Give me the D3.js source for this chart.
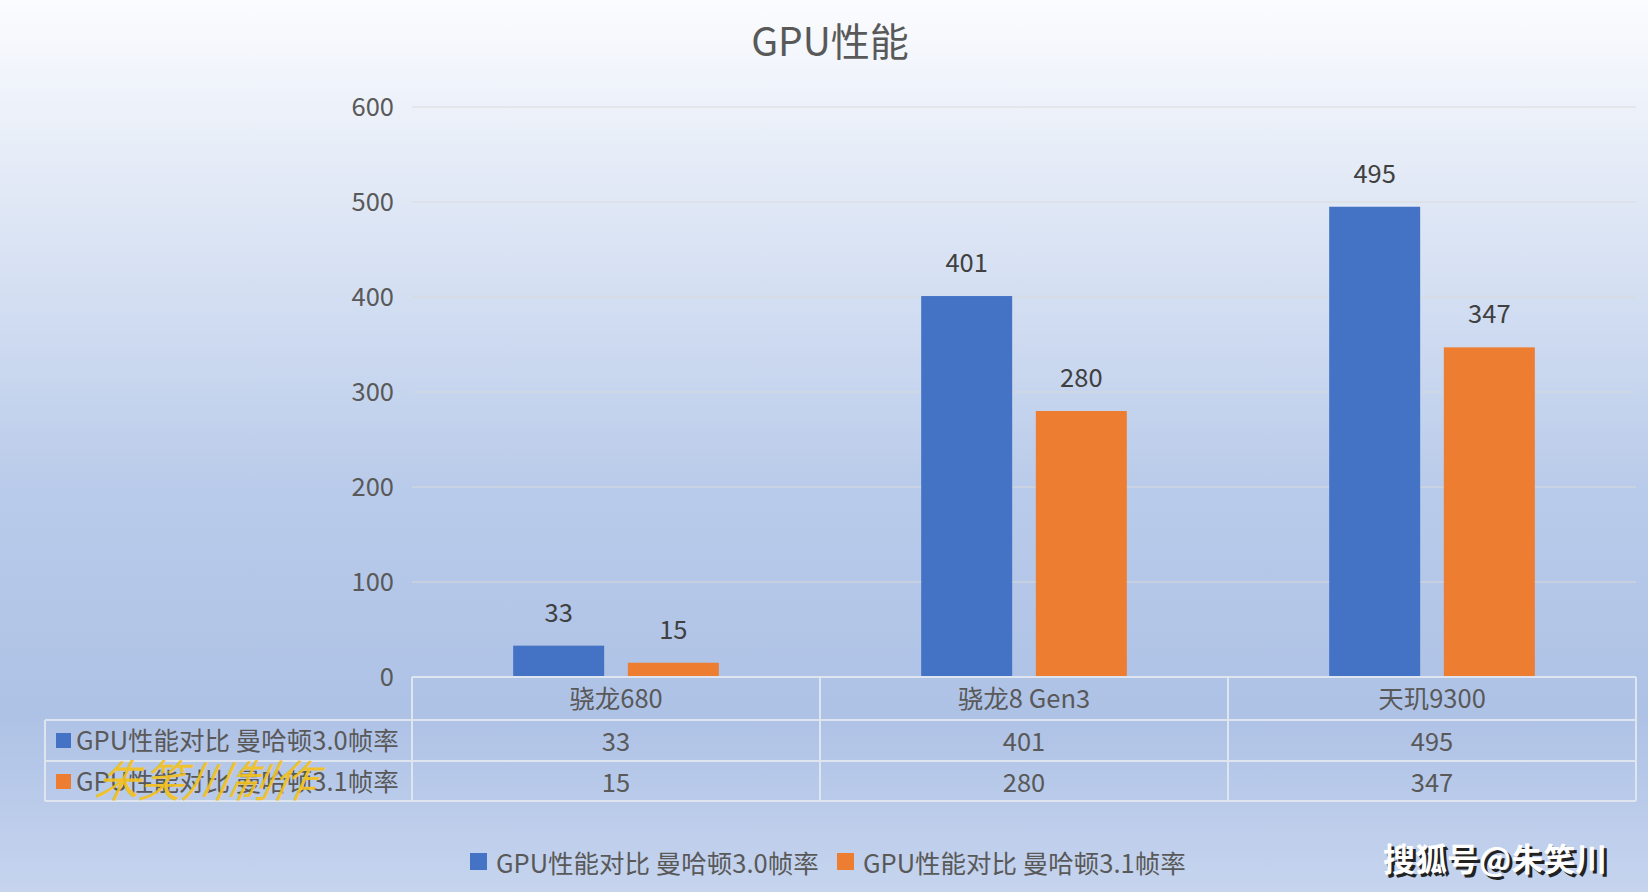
<!DOCTYPE html><html><head><meta charset="utf-8"><script src="https://cdn.jsdelivr.net/npm/d3@7"></script>
<style>body{margin:0;overflow:hidden}text{font-family:"Noto Sans CJK SC","Noto Sans",sans-serif}</style></head><body><svg id="c" width="1648" height="892"></svg><script>
const categories=["骁龙680","骁龙8 Gen3","天玑9300"];
const seriesNames=["GPU性能对比 曼哈顿3.0帧率","GPU性能对比 曼哈顿3.1帧率"];
const s30=[33,401,495];
const s31=[15,280,347];
const yTicks=[0,100,200,300,400,500,600];
const colors=["#4472c4","#ed7d31"];
const svg=d3.select("#c");
const defs=svg.append("defs");
const g=defs.append("linearGradient").attr("id","bg").attr("x1",0).attr("y1",0).attr("x2",0).attr("y2",1);
g.append("stop").attr("offset","0").attr("stop-color","#fbfcfe");
g.append("stop").attr("offset","0.55").attr("stop-color","#b9cbea");
g.append("stop").attr("offset","0.8").attr("stop-color","#aec2e6");
g.append("stop").attr("offset","1").attr("stop-color","#c6d4ee");
svg.append("rect").attr("width",1648).attr("height",892).attr("fill","url(#bg)");
const L=412,R=1636,T=107,B=677;
const x=d3.scaleBand().domain(categories).range([L,R]);
const y=d3.scaleLinear().domain([0,600]).range([B,T]);
const tc="#595959", fs=25.5;
svg.append("text").attr("x",830).attr("y",56).attr("text-anchor","middle").attr("font-size",39).attr("fill",tc).text("GPU性能");
yTicks.forEach(t=>{
  if(t>0)svg.append("line").attr("x1",L).attr("x2",R).attr("y1",y(t)).attr("y2",y(t)).attr("stroke","#d9d9d9").attr("stroke-width",1.2);
  svg.append("text").attr("x",394).attr("y",y(t)+9).attr("text-anchor","end").attr("font-size",fs).attr("fill",tc).text(t);
});
const bw=x.bandwidth()*0.223, off=[x.bandwidth()*0.248, x.bandwidth()*0.529];
[s30,s31].forEach((arr,si)=>{
  categories.forEach((c,i)=>{
    const bx=x(c)+off[si];
    svg.append("rect").attr("x",bx).attr("y",y(arr[i])).attr("width",bw).attr("height",B-y(arr[i])).attr("fill",colors[si]);
    svg.append("text").attr("x",bx+bw/2).attr("y",y(arr[i])-24).attr("text-anchor","middle").attr("font-size",fs).attr("fill","#404040").text(arr[i]);
  });
});
const rows=[677,720,761,801];
const lc="#dfe5ef";
const line=(x1,y1,x2,y2)=>svg.append("line").attr("x1",x1).attr("y1",y1).attr("x2",x2).attr("y2",y2).attr("stroke",lc).attr("stroke-width",2);
line(L,rows[0],R,rows[0]);
line(45,rows[1],R,rows[1]);line(45,rows[2],R,rows[2]);line(45,rows[3],R,rows[3]);
line(45,rows[1],45,rows[3]);
[L,...categories.map(c=>x(c)+x.bandwidth())].forEach(v=>line(v,rows[0],v,rows[3]));
categories.forEach((c,i)=>{
  const cx=x(c)+x.bandwidth()/2;
  svg.append("text").attr("x",cx).attr("y",rows[0]+31).attr("text-anchor","middle").attr("font-size",fs).attr("fill",tc).text(c);
  svg.append("text").attr("x",cx).attr("y",rows[1]+31).attr("text-anchor","middle").attr("font-size",fs).attr("fill",tc).text(s30[i]);
  svg.append("text").attr("x",cx).attr("y",rows[2]+31).attr("text-anchor","middle").attr("font-size",fs).attr("fill",tc).text(s31[i]);
});
seriesNames.forEach((n,i)=>{
  svg.append("rect").attr("x",56).attr("y",rows[i+1]+13).attr("width",15).attr("height",15).attr("fill",colors[i]);
  svg.append("text").attr("x",76).attr("y",rows[i+1]+30).attr("font-size",fs).attr("fill",tc).text(n);
});
const lx=[470,837];
seriesNames.forEach((n,i)=>{
  svg.append("rect").attr("x",lx[i]).attr("y",853).attr("width",17).attr("height",17).attr("fill",colors[i]);
  svg.append("text").attr("x",lx[i]+26).attr("y",873).attr("font-size",fs).attr("fill",tc).text(n);
});
svg.append("text").attr("x",95).attr("y",797).attr("font-size",44).attr("font-style","italic").attr("fill","#f5c21b").attr("opacity",0.9).attr("transform","skewX(-12) translate(168,0)").text("朱笑川制作");
svg.append("text").attr("x",1386).attr("y",874).attr("font-size",32).attr("font-weight","bold").attr("fill","#222").text("搜狐号@朱笑川");
svg.append("text").attr("x",1383).attr("y",871).attr("font-size",32).attr("font-weight","bold").attr("fill","#fff").text("搜狐号@朱笑川");
</script></body></html>
